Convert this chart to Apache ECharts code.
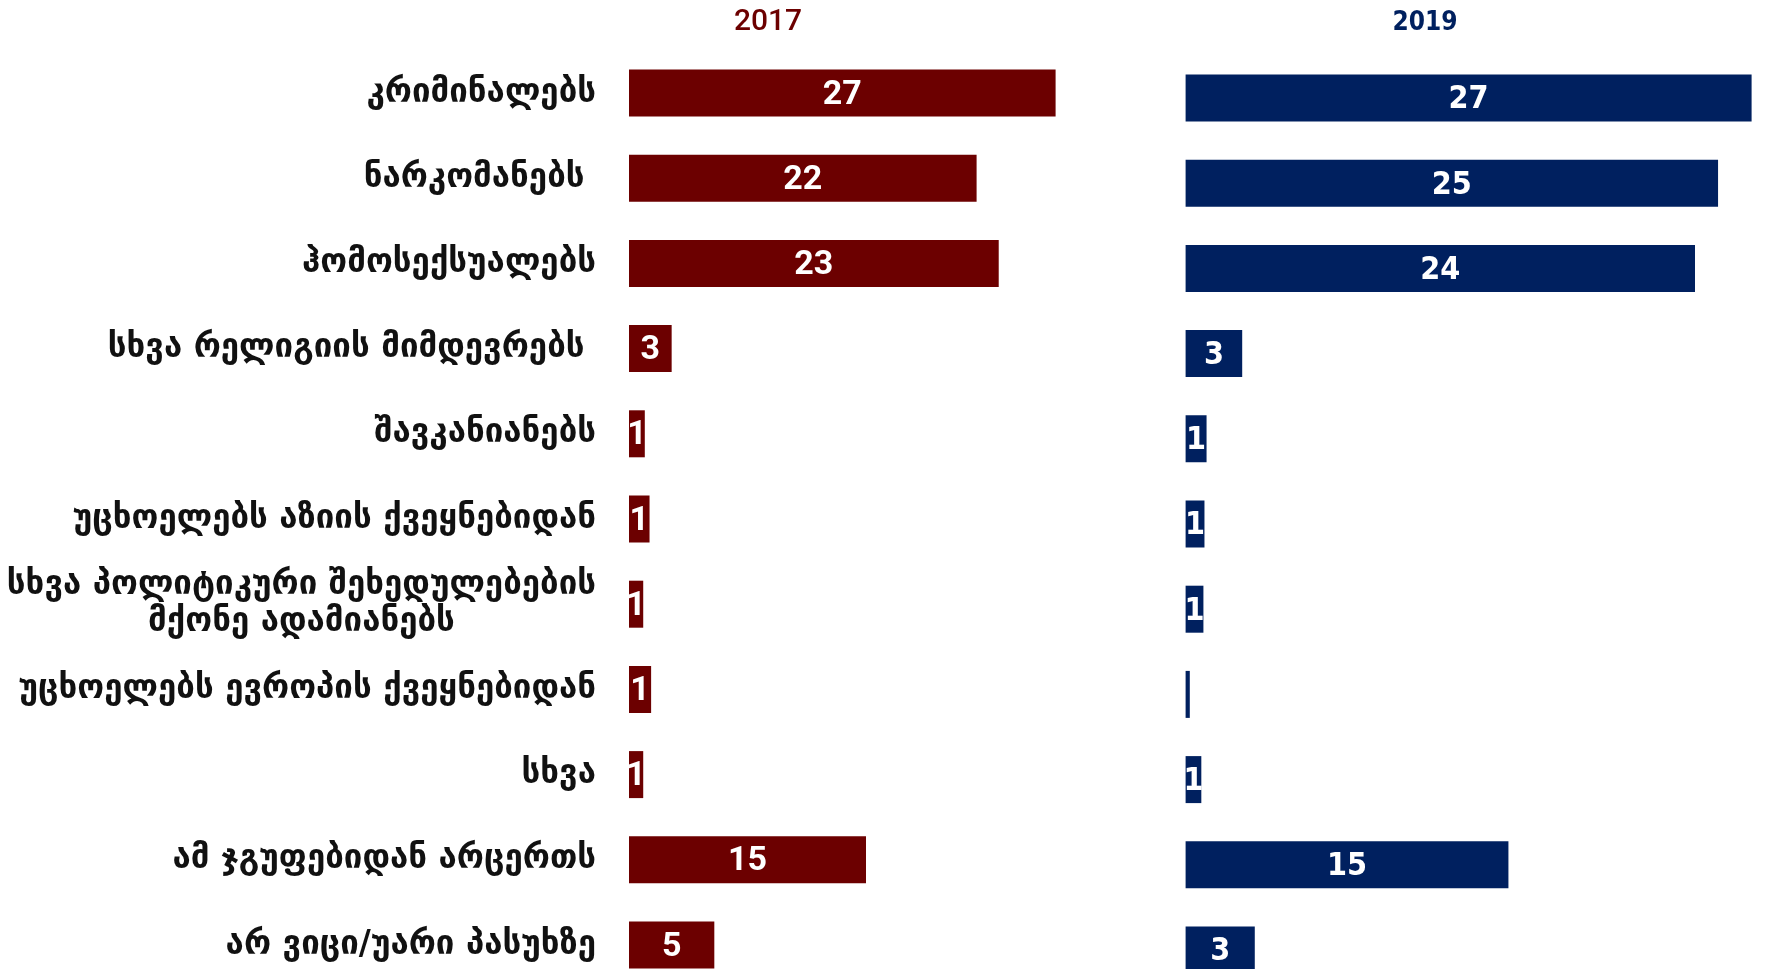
<!DOCTYPE html>
<html>
<head>
<meta charset="utf-8">
<script src="https://cdn.jsdelivr.net/npm/echarts@6/dist/echarts.min.js"></script>
<style>
html, body { margin: 0; padding: 0; background: #fff; }
#main { width: 1767px; height: 969px; }
</style>
</head>
<body>
<div id="main"></div>
<script>
// groups (rows, top to bottom)
const categories = [
    'კრიმინალებს',
    'ნარკომანებს ',
    'ჰომოსექსუალებს',
    'სხვა რელიგიის მიმდევრებს ',
    'შავკანიანებს',
    'უცხოელებს აზიის ქვეყნებიდან',
    'სხვა პოლიტიკური შეხედულებების\nმქონე ადამიანებს',
    'უცხოელებს ევროპის ქვეყნებიდან',
    'სხვა',
    'ამ ჯგუფებიდან არცერთს',
    'არ ვიცი/უარი პასუხზე'
];
// % values
const values2017 = [27, 22, 23.4, 2.7, 1.0, 1.3, 0.9, 1.4, 0.9, 15, 5.4];
const values2019 = [27, 25.4, 24.3, 2.7, 1.0, 0.9, 0.85, 0.2, 0.75, 15.4, 3.3];
const years = ['2017', '2019'];

const red = '#6c0000';
const blue = '#00205f';

function roundLabel(p) {
    // tiny bars carry no number
    return p.value < 0.5 ? '' : String(Math.round(p.value));
}

const chart = echarts.init(document.getElementById('main'));

const option = {
    backgroundColor: '#fff',
    animation: false,
    graphic: [
        {
            type: 'text', x: 768, y: 22,
            style: {
                text: years[0], fill: red, font: '500 30px Roboto',
                align: 'center', verticalAlign: 'middle'
            }
        },
        {
            type: 'text', x: 1425, y: 23,
            style: {
                text: years[1], fill: blue, font: 'bold 26px "DejaVu Sans Condensed", "DejaVu Sans"',
                align: 'center', verticalAlign: 'middle'
            }
        }
    ],
    // rows are 85.2px apart; the last row runs past the bottom edge
    grid: [
        { left: 629, width: 474, top: 50.4, height: 937.2, outerBoundsMode: 'none' },
        { left: 1185.6, width: 566, top: 55.4, height: 937.2, outerBoundsMode: 'none' }
    ],
    xAxis: [
        { gridIndex: 0, type: 'value', min: 0, max: 30, show: false },
        { gridIndex: 1, type: 'value', min: 0, max: 27, show: false }
    ],
    yAxis: [
        {
            gridIndex: 0, type: 'category', inverse: true, data: categories,
            axisLine: { show: false }, axisTick: { show: false },
            axisLabel: {
                margin: 33,
                color: '#111',
                fontFamily: '"DejaVu Sans"',
                fontWeight: 'bold',
                fontSize: 33,
                lineHeight: 37,
                formatter: function (v) {
                    const parts = v.split('\n');
                    if (parts.length < 2) return v;
                    return parts[0] + '\n{c|' + parts[1] + '}';
                },
                rich: {
                    c: {
                        align: 'center', color: '#111', fontFamily: '"DejaVu Sans"',
                        fontWeight: 'bold', fontSize: 33, lineHeight: 37
                    }
                }
            }
        },
        {
            gridIndex: 1, type: 'category', inverse: true, data: categories,
            axisLine: { show: false }, axisTick: { show: false }, axisLabel: { show: false }
        }
    ],
    series: [
        {
            name: years[0], type: 'bar', xAxisIndex: 0, yAxisIndex: 0,
            data: values2017, barWidth: 47,
            itemStyle: { color: red },
            label: {
                show: true, position: 'inside', color: '#fff', offset: [0, 2],
                fontFamily: 'Roboto', fontWeight: 'bold', fontSize: 34,
                formatter: roundLabel
            }
        },
        {
            name: years[1], type: 'bar', xAxisIndex: 1, yAxisIndex: 1,
            data: values2019, barWidth: 47,
            itemStyle: { color: blue },
            label: {
                show: true, position: 'inside', color: '#fff', offset: [0, 2],
                fontFamily: '"DejaVu Sans Condensed", "DejaVu Sans"', fontWeight: 'bold', fontSize: 32,
                formatter: roundLabel
            }
        }
    ]
};

chart.setOption(option);
</script>
</body>
</html>
